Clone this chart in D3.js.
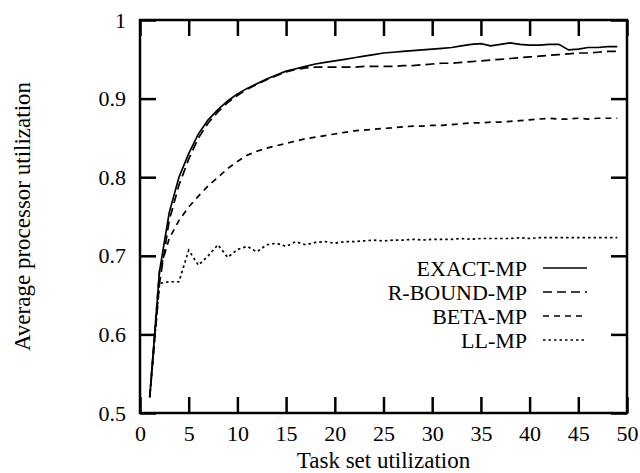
<!DOCTYPE html>
<html>
<head>
<meta charset="utf-8">
<script src="https://d3js.org/d3.v7.min.js"></script>
<style>
  body { margin: 0; background: #fff; }
</style>
</head>
<body>
<div id="chart"></div>
<script>
const width = 640;
const height = 473;
const margin = { top: 20, right: 13, bottom: 60, left: 140 };
const font = "'Liberation Serif', 'Times New Roman', Times, serif";

// task set utilization, 1..49
const xs = d3.range(1, 50);

const exactMP = [0.52, 0.68, 0.755, 0.80, 0.83, 0.855, 0.873, 0.886, 0.897, 0.906,
  0.913, 0.919, 0.925, 0.930, 0.935, 0.938, 0.941, 0.944, 0.946, 0.948,
  0.950, 0.952, 0.954, 0.956, 0.958, 0.959, 0.960, 0.961, 0.962, 0.963,
  0.964, 0.965, 0.967, 0.969, 0.970, 0.967, 0.969, 0.971, 0.969, 0.968,
  0.968, 0.969, 0.969, 0.962, 0.963, 0.965, 0.965, 0.966, 0.966];

const rBoundMP = [0.52, 0.665, 0.745, 0.79, 0.823, 0.85, 0.869, 0.883, 0.895, 0.904,
  0.912, 0.918, 0.924, 0.929, 0.934, 0.937, 0.939, 0.940, 0.940, 0.940,
  0.940, 0.940, 0.941, 0.941, 0.941, 0.941, 0.942, 0.942, 0.943, 0.944,
  0.945, 0.945, 0.946, 0.947, 0.948, 0.949, 0.950, 0.951, 0.952, 0.953,
  0.954, 0.955, 0.956, 0.957, 0.958, 0.958, 0.959, 0.960, 0.960];

const betaMP = [0.52, 0.68, 0.722, 0.745, 0.762, 0.776, 0.789, 0.800, 0.811, 0.820,
  0.828, 0.833, 0.837, 0.840, 0.843, 0.846, 0.849, 0.851, 0.853, 0.855,
  0.857, 0.859, 0.860, 0.861, 0.862, 0.863, 0.864, 0.865, 0.865, 0.866,
  0.866, 0.867, 0.868, 0.869, 0.869, 0.870, 0.870, 0.871, 0.872, 0.873,
  0.874, 0.875, 0.874, 0.874, 0.875, 0.874, 0.875, 0.875, 0.875];

const llMP = [0.52, 0.665, 0.667, 0.667, 0.707, 0.688, 0.700, 0.714, 0.698, 0.708,
  0.712, 0.705, 0.714, 0.716, 0.712, 0.718, 0.714, 0.717, 0.718, 0.716,
  0.718, 0.718, 0.719, 0.720, 0.719, 0.720, 0.720, 0.721, 0.720, 0.721,
  0.721, 0.721, 0.722, 0.721, 0.722, 0.722, 0.722, 0.722, 0.723, 0.722,
  0.723, 0.723, 0.723, 0.723, 0.723, 0.723, 0.723, 0.723, 0.723];

const seriesNames = ["EXACT-MP", "R-BOUND-MP", "BETA-MP", "LL-MP"];
const xTicks = [0, 5, 10, 15, 20, 25, 30, 35, 40, 45, 50];
const yTicks = [0.5, 0.6, 0.7, 0.8, 0.9, 1];

var series = [exactMP, rBoundMP, betaMP, llMP];
var dashes = [null, "9,5", "6,5", "2.5,3"];

var svg = d3.select("#chart")
    .append("svg")
    .attr("width", width)
    .attr("height", height);

var x = d3.scaleLinear().domain([0, 50]).range([margin.left, width - margin.right]);
var y = d3.scaleLinear().domain([0.5, 1]).range([height - margin.bottom, margin.top]);

var tickLen = 16;

function styleTicks(g) {
    g.select(".domain").remove();
    g.selectAll("line").attr("stroke-width", 2.5);
    g.selectAll("text")
        .style("font-family", font)
        .style("font-size", "22px")
        .attr("fill", "#000");
}

// bottom and top ticks (inward)
svg.append("g")
    .attr("transform", "translate(0," + y(0.5) + ")")
    .call(d3.axisBottom(x).tickValues(xTicks).tickSizeInner(-tickLen).tickSizeOuter(0).tickPadding(12))
    .call(styleTicks);

svg.append("g")
    .attr("transform", "translate(0," + y(1) + ")")
    .call(d3.axisTop(x).tickValues(xTicks).tickSizeInner(-tickLen).tickSizeOuter(0).tickFormat(""))
    .call(styleTicks);

// left and right ticks (inward)
svg.append("g")
    .attr("transform", "translate(" + x(0) + ",0)")
    .call(d3.axisLeft(y).tickValues(yTicks).tickSizeInner(-tickLen).tickSizeOuter(0).tickPadding(14)
        .tickFormat(function(d) { return d === 1 ? "1" : d3.format(".1f")(d); }))
    .call(styleTicks);

svg.append("g")
    .attr("transform", "translate(" + x(50) + ",0)")
    .call(d3.axisRight(y).tickValues(yTicks).tickSizeInner(-tickLen).tickSizeOuter(0).tickFormat(""))
    .call(styleTicks);

// frame
svg.append("rect")
    .attr("x", x(0))
    .attr("y", y(1))
    .attr("width", x(50) - x(0))
    .attr("height", y(0.5) - y(1))
    .attr("fill", "none")
    .attr("stroke", "#000")
    .attr("stroke-width", 2.5);

// lines
var line = d3.line()
    .x(function(d, i) { return x(xs[i]); })
    .y(function(d) { return y(d); });

series.forEach(function(s, i) {
    svg.append("path")
        .datum(s)
        .attr("d", line)
        .attr("fill", "none")
        .attr("stroke", "#000")
        .attr("stroke-width", 1.7)
        .attr("stroke-dasharray", dashes[i]);
});

// legend
var legend = svg.append("g");
seriesNames.forEach(function(name, i) {
    var ly = 268 + i * 24;
    legend.append("text")
        .attr("x", 527)
        .attr("y", ly + 8)
        .attr("text-anchor", "end")
        .style("font-family", font)
        .style("font-size", "22px")
        .text(name);
    legend.append("line")
        .attr("x1", 543)
        .attr("x2", 587)
        .attr("y1", ly)
        .attr("y2", ly)
        .attr("stroke", "#000")
        .attr("stroke-width", 1.7)
        .attr("stroke-dasharray", dashes[i]);
});

// axis titles
svg.append("text")
    .attr("x", (x(0) + x(50)) / 2)
    .attr("y", 468)
    .attr("text-anchor", "middle")
    .style("font-family", font)
    .style("font-size", "23px")
    .text("Task set utilization");

svg.append("text")
    .attr("transform", "translate(30," + (y(0.75)) + ") rotate(-90)")
    .attr("text-anchor", "middle")
    .style("font-family", font)
    .style("font-size", "23px")
    .text("Average processor utilization");
</script>
</body>
</html>
